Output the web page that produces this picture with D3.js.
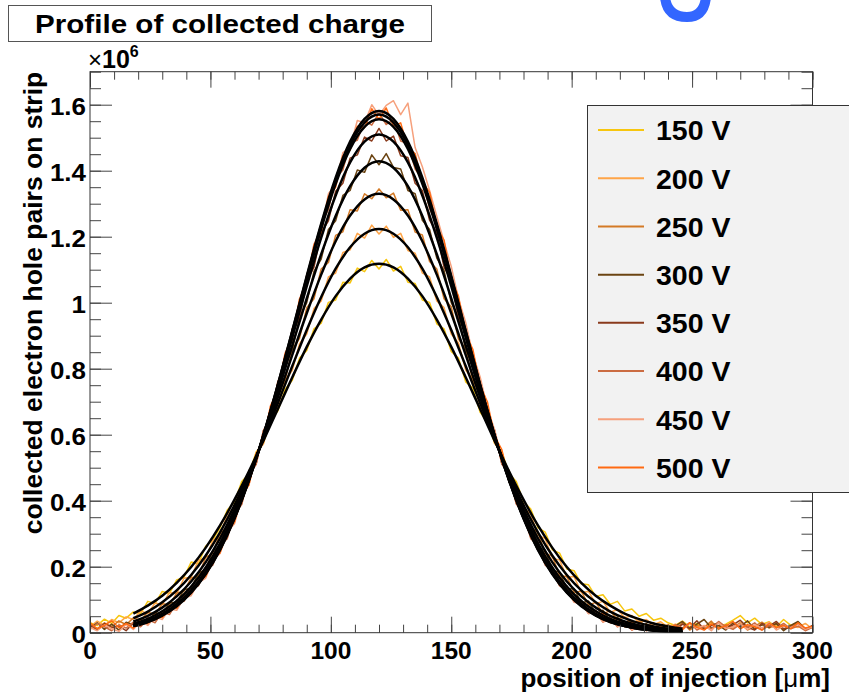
<!DOCTYPE html>
<html><head><meta charset="utf-8">
<script src="https://cdn.jsdelivr.net/npm/d3@7"></script>
<style>
html,body{margin:0;padding:0;background:#fff;}
svg{display:block;font-family:"Liberation Sans",Arial,Helvetica,sans-serif;}
</style></head><body>
<svg id="chart" width="849" height="694"></svg>
<script>
// ---------- data (charge values in units of 10^3 pairs; plotted in 10^6) ----------
const voltages = ["150 V","200 V","250 V","300 V","350 V","400 V","450 V","500 V"];
const colors   = ["#f7c60f","#ffa548","#d47a26","#6b4412","#8a3a1c","#cb6c42","#f6a07c","#ff6a12"];
const xTickValues = [0,50,100,150,200,250,300];
const xTickLabels = ["0","50","100","150","200","250","300"];
const yTickValues = [0,0.2,0.4,0.6,0.8,1.0,1.2,1.4,1.6];
const yTickLabels = ["0","0.2","0.4","0.6","0.8","1","1.2","1.4","1.6"];
// measured profiles, one bin every 3 um from 0 to 300 um
const dataStartUm = 0, dataStepUm = 3;
const d150 = [30,22,41,28,52,44,63,58,95,88,125,119,160,168,214,208,262,281,318,372,395,458,481,548,575,641,672,738,765,832,855,921,938,1001,1008,1062,1060,1105,1094,1128,1102,
1131,1096,1110,1062,1058,1008,1001,936,921,852,832,760,741,668,640,574,548,482,458,397,375,318,305,251,241,193,188,148,145,110,115,86,95,66,72,50,58,38,44,30,
22,35,18,28,12,30,20,26,38,52,30,44,25,33,18,40,22,30,12,20];
const d200 = [18,35,22,40,30,48,40,66,58,90,85,122,118,165,168,220,225,280,296,358,380,445,470,545,572,652,684,765,795,876,905,982,1005,1078,1090,1152,1160,1210,1196,1235,1208,
1232,1198,1210,1158,1150,1090,1078,1005,985,905,878,796,766,685,655,574,548,470,446,378,360,296,285,226,220,168,170,122,125,88,95,62,70,45,52,30,40,24,33,16,
26,14,30,20,10,28,16,24,12,32,20,14,26,18,30,10,22,16,28,12];
const d250 = [25,12,30,18,36,24,45,38,62,55,88,85,120,125,166,172,228,240,302,318,388,410,492,520,606,640,728,765,858,892,985,1012,1102,1122,1204,1215,1282,1278,1330,1315,1345,
1318,1332,1280,1282,1214,1205,1125,1102,1012,988,890,860,762,732,638,608,518,492,410,390,318,305,240,232,172,170,122,126,84,92,58,66,40,48,26,36,20,30,14,24,
12,30,8,22,16,35,10,24,18,28,8,20,32,14,26,10,20,30,12,18];
const d300 = [14,30,10,26,8,32,24,40,35,60,58,90,92,130,135,180,190,248,262,328,350,425,458,542,580,672,716,812,858,955,1000,1095,1132,1222,1248,1325,1340,1402,1395,1448,1418,
1452,1410,1405,1340,1330,1250,1222,1135,1098,1000,958,858,815,715,675,580,545,456,428,348,330,260,250,188,184,132,134,90,96,58,68,36,48,22,35,12,28,10,22,6,
20,34,12,26,40,14,22,8,30,18,36,10,24,16,28,6,22,34,12,18];
const d350 = [22,8,28,15,20,6,30,20,45,38,66,62,98,100,140,148,198,210,272,290,368,392,480,512,612,650,756,800,910,955,1065,1108,1212,1248,1338,1362,1438,1448,1502,1490,1528,
1490,1505,1445,1440,1362,1340,1250,1212,1108,1068,955,912,800,758,650,614,512,480,392,370,290,275,210,200,148,142,100,98,62,68,38,48,20,32,8,24,6,20,4,16,
8,26,14,36,10,22,30,12,24,38,16,8,28,20,34,12,18,26,10,22];
const d400 = [10,28,18,6,24,14,32,18,40,30,62,55,92,95,132,142,190,205,265,285,360,388,478,510,612,652,762,805,922,962,1085,1132,1240,1282,1378,1402,1485,1492,1552,1538,1575,
1540,1555,1490,1482,1405,1375,1285,1238,1135,1082,965,920,808,760,655,610,512,478,390,360,285,265,205,188,142,132,95,90,58,62,32,45,18,30,8,22,14,6,20,10,
24,14,30,8,20,12,34,18,10,26,16,30,8,22,14,28,12,20,6,16];
const d450 = [16,6,24,12,4,26,10,35,22,48,40,72,68,105,112,152,165,220,240,305,330,412,448,540,585,688,735,848,895,1012,1065,1178,1222,1330,1360,1455,1470,1552,1545,1600,1568,
1598,1612,1570,1605,1470,1412,1340,1262,1185,1110,1012,940,842,775,680,615,528,475,398,358,292,262,208,188,142,130,92,88,58,62,32,42,18,30,8,22,6,18,4,14,
20,8,28,14,22,6,30,12,18,26,10,24,14,32,8,20,16,26,10,18];
const d500 = [30,12,22,36,15,28,14,38,28,55,46,80,74,112,118,160,170,225,242,310,335,415,448,542,582,688,728,845,885,1010,1055,1175,1212,1322,1350,1445,1462,1535,1530,1588,1556,
1590,1535,1545,1470,1452,1365,1335,1228,1190,1070,1020,905,858,748,700,595,555,460,425,345,318,250,235,178,168,120,118,80,82,50,60,30,42,18,30,10,24,6,18,12,
22,10,30,16,8,26,14,20,34,12,24,18,8,28,16,22,12,30,14,20];
// fitted curves, one point every 6 um from 18 to 246 um
const fitStartUm = 18, fitStepUm = 6;
const fit150 = [58,82,112,151,199,257,325,403,489,582,678,774,866,949,1020,1073,1107,1118,1107,1073,1020,949,866,774,678,582,489,403,325,257,199,151,112,82,58,41,28,19,12];
const fit200 = [44,64,92,128,175,233,304,387,482,585,696,808,917,1017,1103,1168,1209,1223,1209,1168,1103,1017,917,808,696,585,482,387,304,233,175,128,92,64,44,29,19,12,8];
const fit250 = [34,51,76,110,155,213,286,373,475,590,713,842,968,1085,1186,1264,1313,1330,1313,1264,1186,1085,968,842,713,590,475,373,286,213,155,110,76,51,34,22,14,8,5];
const fit300 = [27,42,65,96,140,197,271,361,469,593,729,871,1013,1147,1263,1353,1409,1429,1409,1353,1263,1147,1013,871,729,593,469,361,271,197,140,96,65,42,27,17,10,6,3];
const fit350 = [23,37,57,87,129,186,260,353,465,596,741,895,1050,1197,1325,1425,1488,1510,1488,1425,1325,1197,1050,895,741,596,465,353,260,186,129,87,57,37,23,14,8,5,2];
const fit400 = [21,34,54,83,124,180,254,348,463,597,747,908,1070,1224,1360,1466,1533,1556,1533,1466,1360,1224,1070,908,747,597,463,348,254,180,124,83,54,34,21,12,7,4,2];
const fit450 = [20,32,52,80,121,177,251,346,461,598,751,915,1081,1240,1379,1488,1557,1581,1557,1488,1379,1240,1081,915,751,598,461,346,251,177,121,80,52,32,20,11,7,4,2];
const fit500 = [20,33,53,82,123,179,253,348,463,599,751,913,1077,1234,1371,1478,1546,1570,1546,1478,1371,1234,1077,913,751,599,463,348,253,179,123,82,53,33,20,12,7,4,2];

const measured = [d150,d200,d250,d300,d350,d400,d450,d500];
const fits = [fit150,fit200,fit250,fit300,fit350,fit400,fit450,fit500];

// ---------- layout ----------
const svg = d3.select("#chart");
const L = 90, R = 812.5, T = 71.7, B = 632.7;
const x = d3.scaleLinear().domain([0,300]).range([L,R]);
const y = d3.scaleLinear().domain([0,1.7]).range([B,T]);

svg.append("rect").attr("width",849).attr("height",694).attr("fill","#fff");

svg.append("defs").append("clipPath").attr("id","clip")
  .append("rect").attr("x",L).attr("y",T).attr("width",R-L).attr("height",B-T);

// blue fragment of slide heading (cut at top edge)
svg.append("path").attr("d","M665,-3 Q667,17 687,17 Q704,17 706,-3")
  .attr("fill","none").attr("stroke","#3366ff").attr("stroke-width",10);

// ---------- curves ----------
const plot = svg.append("g").attr("clip-path","url(#clip)");
const dataLine = d3.line()
  .x((d,i)=>x(dataStartUm + i*dataStepUm))
  .y(d=>y(d / 1000));
measured.forEach((arr,k)=>{
  plot.append("path").attr("d",dataLine(arr))
    .attr("fill","none").attr("stroke",colors[k]).attr("stroke-width",1.5)
    .attr("stroke-linejoin","round");
});
const fitLine = d3.line()
  .x((d,i)=>x(fitStartUm + i*fitStepUm))
  .y(d=>y(d / 1000))
  .curve(d3.curveMonotoneX);
fits.forEach(arr=>{
  plot.append("path").attr("d",fitLine(arr))
    .attr("fill","none").attr("stroke","#000").attr("stroke-width",2.5)
    .attr("stroke-linejoin","round");
});

// ---------- axes ----------
function styleAxis(g){ g.select(".domain").remove(); g.selectAll("line").attr("stroke","#444").attr("stroke-width",1); g.selectAll("text").remove(); }
const xMinor = x.ticks(30), yMinor = d3.range(0,35).map(i=>i*0.05);
svg.append("g").attr("transform",`translate(0,${B})`).call(d3.axisBottom(x).tickValues(xMinor).tickSize(-8)).call(styleAxis);
svg.append("g").attr("transform",`translate(0,${B})`).call(d3.axisBottom(x).tickValues(xTickValues).tickSize(-16)).call(styleAxis);
svg.append("g").attr("transform",`translate(0,${T})`).call(d3.axisTop(x).tickValues(xMinor).tickSize(-8)).call(styleAxis);
svg.append("g").attr("transform",`translate(0,${T})`).call(d3.axisTop(x).tickValues(xTickValues).tickSize(-16)).call(styleAxis);
svg.append("g").attr("transform",`translate(${L},0)`).call(d3.axisLeft(y).tickValues(yMinor).tickSize(-11)).call(styleAxis);
svg.append("g").attr("transform",`translate(${L},0)`).call(d3.axisLeft(y).tickValues(yTickValues).tickSize(-22)).call(styleAxis);
svg.append("g").attr("transform",`translate(${R},0)`).call(d3.axisRight(y).tickValues(yMinor).tickSize(-11)).call(styleAxis);
svg.append("g").attr("transform",`translate(${R},0)`).call(d3.axisRight(y).tickValues(yTickValues).tickSize(-22)).call(styleAxis);

svg.append("rect").attr("x",L).attr("y",T).attr("width",R-L).attr("height",B-T)
  .attr("fill","none").attr("stroke","#333").attr("stroke-width",1);

// tick labels
svg.append("g").selectAll("text").data(xTickValues).join("text")
  .attr("x",d=>x(d)).attr("y",B+26.5).attr("text-anchor","middle")
  .attr("font-size",24.5).attr("font-weight","bold").text((d,i)=>xTickLabels[i]);
svg.append("g").attr("class","ylab").selectAll("text").data(yTickValues).join("text")
  .attr("x",L-4).attr("y",d=>y(d)+10.5).attr("text-anchor","end")
  .attr("font-size",24).attr("font-weight","bold").text((d,i)=>yTickLabels[i]);

// exponent
const ex = svg.append("text").attr("x",88).attr("y",68.3);
ex.append("tspan").attr("font-size",24).text("×");
ex.append("tspan").attr("font-size",25).attr("font-weight","bold").text("10");
ex.append("tspan").attr("font-size",16).attr("font-weight","bold").attr("dy",-11.5).text("6");

// axis titles
const xt = svg.append("text").attr("x",830).attr("y",687).attr("text-anchor","end")
  .attr("font-size",26).attr("font-weight","bold");
xt.append("tspan").text("position of injection [");
xt.append("tspan").attr("font-weight","normal").text("μ");
xt.append("tspan").text("m]");
svg.append("text").attr("transform","translate(42,303) rotate(-90)")
  .attr("text-anchor","middle").attr("font-size",26.5).attr("font-weight","bold")
  .text("collected electron hole pairs on strip");

// title box
svg.append("rect").attr("x",8.5).attr("y",5.5).attr("width",423).attr("height",36)
  .attr("fill","#fff").attr("stroke","#555").attr("stroke-width",1);
svg.append("text").attr("x",35).attr("y",33.3).attr("font-size",26).attr("font-weight","bold")
  .attr("textLength",370).attr("lengthAdjust","spacingAndGlyphs")
  .text("Profile of collected charge");

// ---------- legend ----------
const lg = svg.append("g");
lg.append("rect").attr("x",587.5).attr("y",105.5).attr("width",300).attr("height",387)
  .attr("fill","#f2f2f2").attr("stroke","#333").attr("stroke-width",1);
const ly = d3.scalePoint().domain(voltages).range([130,467.5]);
voltages.forEach((v,k)=>{
  lg.append("line").attr("x1",598).attr("x2",644).attr("y1",ly(v)).attr("y2",ly(v))
    .attr("stroke",colors[k]).attr("stroke-width",2);
  lg.append("text").attr("x",656).attr("y",ly(v)+10.3).attr("font-size",28.5)
    .attr("font-weight","bold").text(v);
});

// slight horizontal widening of tick labels as in the original rendering
svg.selectAll(".ylab text").each(function(){
  const w = this.getComputedTextLength();
  d3.select(this).attr("textLength",w*1.08).attr("lengthAdjust","spacingAndGlyphs");
});
</script>
</body></html>
